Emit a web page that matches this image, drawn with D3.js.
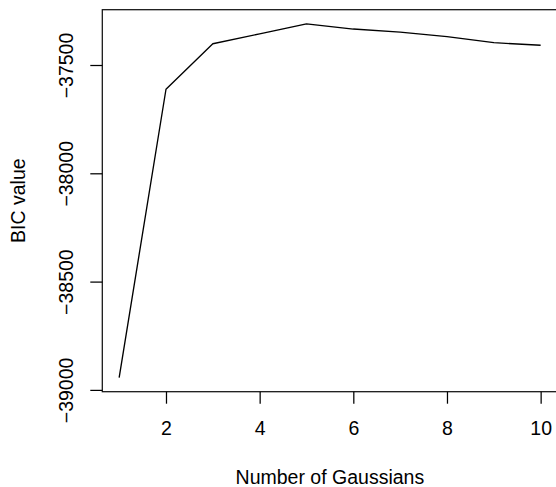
<!DOCTYPE html>
<html>
<head>
<meta charset="utf-8">
<script src="https://cdn.jsdelivr.net/npm/d3@7"></script>
<style>
  html, body { margin: 0; padding: 0; background: #fff; }
  svg { display: block; }
  text { font-family: "Liberation Sans", Arial, Helvetica, sans-serif; fill: #000; }
</style>
</head>
<body>
<script>
const components = [1, 2, 3, 4, 5, 6, 7, 8, 9, 10];
const bicValues = [-38943, -37612, -37402, -37356, -37310, -37334, -37348, -37369, -37397, -37409];
const xTicks = [2, 4, 6, 8, 10];
const yTicks = [-39000, -38500, -38000, -37500];
const xTitle = "Number of Gaussians";
const yTitle = "BIC value";

(function () {
const W = 556, H = 487;
const pLeft = 102.3, pRight = 557.5, pTop = 9.7, pBottom = 391.7;
const fs = 19.5;

const svg = d3.select("body").append("svg").attr("width", W).attr("height", H);

const xExt = d3.extent(components), xr = xExt[1] - xExt[0];
const yExt = d3.extent(bicValues), yr = yExt[1] - yExt[0];
const x = d3.scaleLinear().domain([xExt[0] - 0.04 * xr, xExt[1] + 0.04 * xr]).range([pLeft, pRight]);
const y = d3.scaleLinear().domain([yExt[0] - 0.04 * yr, yExt[1] + 0.04 * yr]).range([pBottom, pTop]);

// data line
svg.append("path")
  .datum(components.map((c, i) => [c, bicValues[i]]))
  .attr("fill", "none")
  .attr("stroke", "#000")
  .attr("stroke-width", 1.35)
  .attr("stroke-linejoin", "round")
  .attr("d", d3.line().x(d => x(d[0])).y(d => y(d[1])));

// box
svg.append("rect")
  .attr("x", pLeft).attr("y", pTop)
  .attr("width", pRight - pLeft).attr("height", pBottom - pTop)
  .attr("fill", "none").attr("stroke", "#111").attr("stroke-width", 1.25);

// x axis
const gx = svg.append("g").attr("transform", `translate(0,${pBottom})`)
  .call(d3.axisBottom(x).tickValues(xTicks).tickSize(12).tickPadding(17.8).tickFormat(d3.format("d")));
gx.select(".domain").remove();
gx.selectAll("line").attr("stroke", "#000").attr("stroke-width", 1.25);
gx.selectAll("text").attr("font-size", fs).attr("font-family", '"Liberation Sans", Arial, sans-serif').attr("fill", "#000");

// y axis
const gy = svg.append("g").attr("transform", `translate(${pLeft},0)`)
  .call(d3.axisLeft(y).tickValues(yTicks).tickSize(12).tickFormat(""));
gy.select(".domain").remove();
gy.selectAll("line").attr("stroke", "#000").attr("stroke-width", 1.25);
const yfmt = d3.format("d");
gy.selectAll(".tick").append("text")
  .attr("transform", "translate(-29.6,0) rotate(-90)")
  .attr("text-anchor", "middle")
  .attr("font-size", fs)
  .attr("font-family", '"Liberation Sans", Arial, sans-serif')
  .attr("fill", "#000")
  .text(d => yfmt(d));

// titles
svg.append("text")
  .attr("x", (pLeft + pRight) / 2).attr("y", 483.5)
  .attr("text-anchor", "middle").attr("font-size", fs)
  .text(xTitle);
svg.append("text")
  .attr("transform", `translate(25,${(pTop + pBottom) / 2}) rotate(-90)`)
  .attr("text-anchor", "middle").attr("font-size", fs)
  .text(yTitle);
})();
</script>
</body>
</html>
